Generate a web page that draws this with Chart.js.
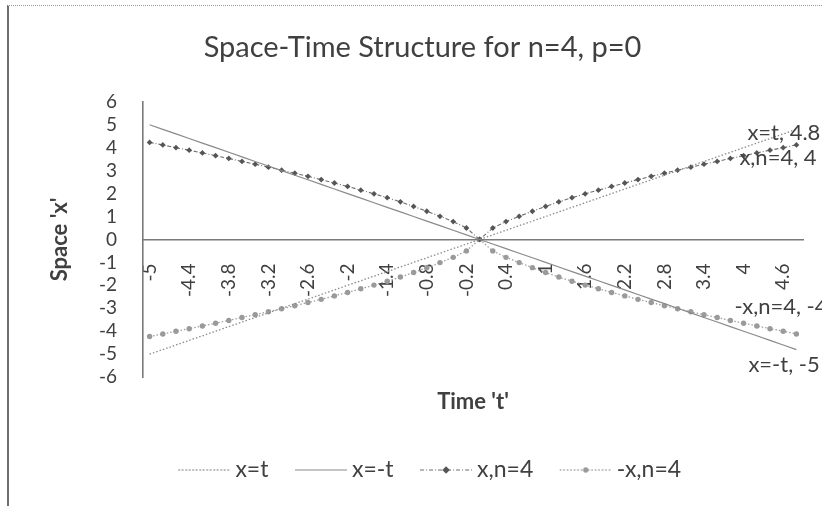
<!DOCTYPE html>
<html>
<head>
<meta charset="utf-8">
<script src="https://cdn.jsdelivr.net/npm/chart.js@4.4.1/dist/chart.umd.min.js"></script>
<style>
  html, body { margin: 0; padding: 0; background: #fff; }
  #wrap { position: relative; width: 822px; height: 506px; overflow: hidden; }
  #frame { position: absolute; left: 7px; top: 5px; right: -10px; bottom: -10px; border-left: 2px solid #6e6e6e; border-top: 1px dotted #9a9a9a; pointer-events: none; }
</style>
</head>
<body>
<div id="wrap">
  <canvas id="spaceTime" width="822" height="506"></canvas>
  <div id="frame"></div>
</div>
<script>
!(function () {
  "use strict";

  var timeLabels = [-5, -4.8, -4.6, -4.4, -4.2, -4, -3.8, -3.6, -3.4, -3.2, -3, -2.8, -2.6, -2.4, -2.2, -2, -1.8, -1.6, -1.4, -1.2, -1, -0.8, -0.6, -0.4, -0.2,
    0, 0.2, 0.4, 0.6, 0.8, 1, 1.2, 1.4, 1.6, 1.8, 2, 2.2, 2.4, 2.6, 2.8, 3, 3.2, 3.4, 3.6, 3.8, 4, 4.2, 4.4, 4.6, 4.8];

  var xEqT = [-5, -4.8, -4.6, -4.4, -4.2, -4, -3.8, -3.6, -3.4, -3.2, -3, -2.8, -2.6, -2.4, -2.2, -2, -1.8, -1.6, -1.4, -1.2, -1, -0.8, -0.6, -0.4, -0.2,
    0, 0.2, 0.4, 0.6, 0.8, 1, 1.2, 1.4, 1.6, 1.8, 2, 2.2, 2.4, 2.6, 2.8, 3, 3.2, 3.4, 3.6, 3.8, 4, 4.2, 4.4, 4.6, 4.8];

  var xEqMinusT = [5, 4.8, 4.6, 4.4, 4.2, 4, 3.8, 3.6, 3.4, 3.2, 3, 2.8, 2.6, 2.4, 2.2, 2, 1.8, 1.6, 1.4, 1.2, 1, 0.8, 0.6, 0.4, 0.2,
    0, -0.2, -0.4, -0.6, -0.8, -1, -1.2, -1.4, -1.6, -1.8, -2, -2.2, -2.4, -2.6, -2.8, -3, -3.2, -3.4, -3.6, -3.8, -4, -4.2, -4.4, -4.6, -4.8];

  var xN4 = [4.23, 4.12, 4.00, 3.89, 3.77, 3.65, 3.53, 3.40, 3.28, 3.15, 3.02, 2.89, 2.75, 2.61, 2.46, 2.31, 2.15, 1.99, 1.82, 1.64, 1.44, 1.23, 1.01, 0.78, 0.50,
    0, 0.50, 0.78, 1.01, 1.23, 1.44, 1.64, 1.82, 1.99, 2.15, 2.31, 2.46, 2.61, 2.75, 2.89, 3.02, 3.15, 3.28, 3.40, 3.53, 3.65, 3.77, 3.89, 4.00, 4.12];

  var minusXN4 = [-4.23, -4.12, -4.00, -3.89, -3.77, -3.65, -3.53, -3.40, -3.28, -3.15, -3.02, -2.89, -2.75, -2.61, -2.46, -2.31, -2.15, -1.99, -1.82, -1.64, -1.44, -1.23, -1.01, -0.78, -0.50,
    0, -0.50, -0.78, -1.01, -1.23, -1.44, -1.64, -1.82, -1.99, -2.15, -2.31, -2.46, -2.61, -2.75, -2.89, -3.02, -3.15, -3.28, -3.40, -3.53, -3.65, -3.77, -3.89, -4.00, -4.12];

  var seriesNames = ["x=t", "x=-t", "x,n=4", "-x,n=4"];
  var endLabelDecimals = [1, 0, 0, 0];

  var textColor = '#404040';
  var axisColor = '#7a7a7a';
  var fontFamily = 'Lato, "Open Sans", sans-serif';

  var seriesStyle = [
    { color: '#8c8c8c', width: 1.3, dash: [1.5, 2], point: false },
    { color: '#8a8a8a', width: 1.2, dash: [], point: false },
    { color: '#6f6f6f', width: 1.1, dash: [4, 2, 1, 2], point: 'rectRot', pointColor: '#555555', radius: 2.9 },
    { color: '#a0a0a0', width: 1.3, dash: [1.5, 2], point: 'circle', pointColor: '#9a9a9a', radius: 2.7 }
  ];

  // label text offsets from the last point of each series
  var endLabelOffsets = [[-49, 4], [-48, 15], [-57, 13], [-62, -27]];

  function legendIcon(style) {
    var c = document.createElement('canvas');
    c.width = 73;
    c.height = 12;
    var ctx = c.getContext('2d');
    ctx.strokeStyle = style.color;
    ctx.lineWidth = style.width;
    ctx.setLineDash(style.dash);
    ctx.beginPath();
    ctx.moveTo(21, 6);
    ctx.lineTo(73, 6);
    ctx.stroke();
    if (style.point) {
      ctx.setLineDash([]);
      ctx.fillStyle = style.pointColor;
      ctx.beginPath();
      if (style.point === 'rectRot') {
        ctx.moveTo(47, 6 - style.radius * 1.3);
        ctx.lineTo(47 + style.radius * 1.3, 6);
        ctx.lineTo(47, 6 + style.radius * 1.3);
        ctx.lineTo(47 - style.radius * 1.3, 6);
        ctx.closePath();
      } else {
        ctx.arc(47, 6, style.radius, 0, Math.PI * 2);
      }
      ctx.fill();
    }
    return c;
  }

  var seriesData = [xEqT, xEqMinusT, xN4, minusXN4];
  var datasets = [];
  for (var i = 0; i < seriesData.length; i++) {
    var st = seriesStyle[i];
    datasets.push({
      label: seriesNames[i],
      data: seriesData[i],
      borderColor: st.color,
      backgroundColor: st.color,
      borderWidth: st.width,
      borderDash: st.dash,
      tension: 0,
      fill: false,
      pointStyle: st.point || 'circle',
      pointRadius: st.point ? st.radius : 0,
      pointHoverRadius: st.point ? st.radius : 0,
      pointBackgroundColor: st.pointColor || st.color,
      pointBorderColor: st.pointColor || st.color,
      pointBorderWidth: 0
    });
  }

  var endLabels = {
    id: 'endLabels',
    afterDatasetsDraw: function (chart) {
      var ctx = chart.ctx;
      ctx.save();
      ctx.font = '22px ' + fontFamily;
      ctx.fillStyle = textColor;
      ctx.textBaseline = 'middle';
      ctx.textAlign = 'left';
      chart.data.datasets.forEach(function (ds, k) {
        var meta = chart.getDatasetMeta(k);
        var last = meta.data[meta.data.length - 1];
        var v = ds.data[ds.data.length - 1];
        var off = endLabelOffsets[k];
        ctx.fillText(ds.label + ', ' + v.toFixed(endLabelDecimals[k]), last.x + off[0], last.y + off[1]);
      });
      ctx.restore();
    }
  };

  var tickFont = { family: fontFamily, size: 19 };

  new Chart(document.getElementById('spaceTime').getContext('2d'), {
    type: 'line',
    data: {
      labels: timeLabels,
      datasets: datasets
    },
    plugins: [endLabels],
    options: {
      responsive: false,
      animation: false,
      devicePixelRatio: 1,
      layout: { padding: { left: 42, right: 19, top: 0, bottom: 14.5 } },
      plugins: {
        title: {
          display: true,
          text: 'Space-Time Structure for n=4, p=0',
          color: textColor,
          font: { family: fontFamily, size: 29, weight: 'normal' },
          padding: { top: 30, bottom: 37 }
        },
        legend: {
          display: true,
          position: 'bottom',
          labels: {
            usePointStyle: true,
            pointStyleWidth: 60,
            padding: 12,
            color: textColor,
            font: { family: fontFamily, size: 23 },
            generateLabels: function (chart) {
              var items = Chart.defaults.plugins.legend.labels.generateLabels(chart);
              items.forEach(function (it, k) { it.pointStyle = legendIcon(seriesStyle[k]); });
              return items;
            }
          }
        },
        tooltip: { enabled: false }
      },
      scales: {
        x: {
          type: 'category',
          position: { y: 0 },
          offset: true,
          grid: { display: false, drawTicks: false },
          border: { display: true, color: axisColor, width: 1.6 },
          ticks: {
            autoSkip: false,
            minRotation: 90,
            maxRotation: 90,
            padding: 24,
            color: textColor,
            font: tickFont,
            callback: function (value, index) {
              return index % 3 === 0 ? this.getLabelForValue(value) : null;
            }
          },
          afterFit: function (scale) { scale.paddingLeft = 0; scale.paddingRight = 0; }
        },
        xTitle: {
          type: 'category',
          axis: 'x',
          position: 'bottom',
          offset: true,
          grid: { display: false, drawTicks: false },
          border: { display: false },
          ticks: { display: false },
          title: {
            display: true,
            text: "Time 't'",
            color: textColor,
            font: { family: fontFamily, size: 22, weight: 'bold' },
            padding: { top: 12, bottom: 31 }
          }
        },
        y: {
          min: -6,
          max: 6,
          grid: { display: false, drawTicks: false },
          border: { display: true, color: axisColor, width: 1.6 },
          ticks: { stepSize: 1, autoSkip: false, padding: 26, color: textColor, font: tickFont },
          title: {
            display: true,
            text: "Space 'x'",
            color: textColor,
            font: { family: fontFamily, size: 22, weight: 'bold' },
            padding: { top: 5, bottom: 0 }
          },
          afterFit: function (scale) { scale.width = 101; }
        }
      }
    }
  });
})();
</script>
</body>
</html>
